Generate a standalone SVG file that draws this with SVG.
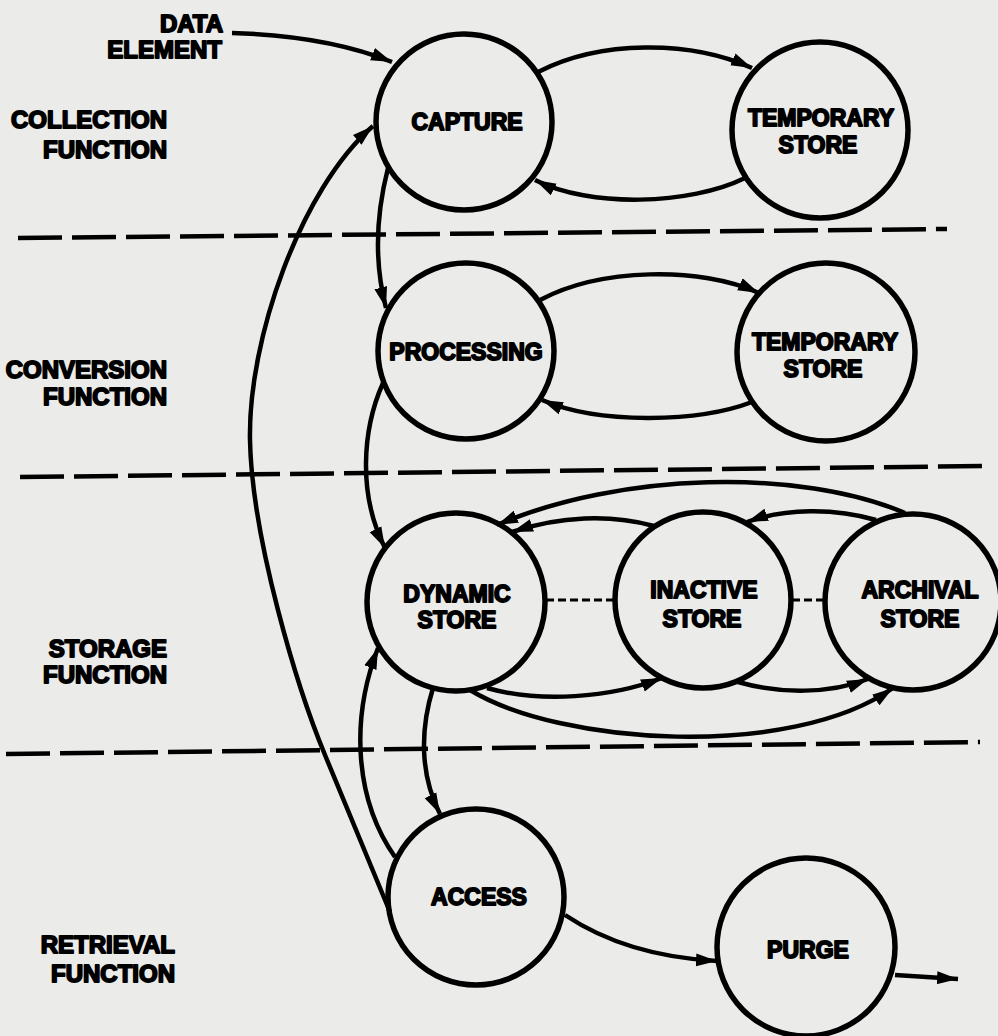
<svg xmlns="http://www.w3.org/2000/svg" width="998" height="1036" viewBox="0 0 998 1036">
<style>
.bg{fill:#ebebe9}
.node{fill:none;stroke:#000;stroke-width:5.5}
.lbl{font-family:"Liberation Sans",Arial,sans-serif;font-weight:bold;font-size:23px;fill:#000;stroke:#000;stroke-width:1.8;stroke-linejoin:round;text-anchor:middle}
.side{font-family:"Liberation Sans",Arial,sans-serif;font-weight:bold;font-size:24px;fill:#000;stroke:#000;stroke-width:1.8;stroke-linejoin:round;text-anchor:end}
.sep{fill:none;stroke:#000;stroke-width:4.5;stroke-dasharray:44 10}
.edge{fill:none;stroke:#000;stroke-width:4.5;marker-end:url(#arr)}
.dot{fill:none;stroke:#000;stroke-width:3;stroke-dasharray:8 4}
</style>
<defs>
<marker id="arr" markerUnits="userSpaceOnUse" markerWidth="24" markerHeight="16" refX="21" refY="7" orient="auto">
<path d="M0,0.5 L21,7 L0,13.5 z" fill="#000"/>
</marker>
</defs>
<rect class="bg" x="0" y="0" width="998" height="1036"/>

<g id="section-labels">
<text class="side" x="223" y="32">DATA</text>
<text class="side" x="222" y="58">ELEMENT</text>
<text class="side" x="167" y="128">COLLECTION</text>
<text class="side" x="167" y="158">FUNCTION</text>
<text class="side" x="167" y="378">CONVERSION</text>
<text class="side" x="167" y="405">FUNCTION</text>
<text class="side" x="167" y="657">STORAGE</text>
<text class="side" x="167" y="683">FUNCTION</text>
<text class="side" x="175" y="953">RETRIEVAL</text>
<text class="side" x="175" y="982">FUNCTION</text>
</g>

<g id="separators">
<line class="sep" x1="18" y1="238" x2="947" y2="229"/>
<line class="sep" x1="20" y1="477" x2="988" y2="466"/>
<line class="sep" x1="6" y1="754" x2="980" y2="742"/>
</g>

<g id="capture"><circle class="node" cx="464" cy="122" r="88"/><text class="lbl" x="467" y="130">CAPTURE</text></g>
<g id="temp-store-1"><circle class="node" cx="820" cy="130" r="88"/><text class="lbl" x="821" y="126">TEMPORARY</text><text class="lbl" x="818" y="153">STORE</text></g>
<g id="processing"><circle class="node" cx="466" cy="351" r="88"/><text class="lbl" x="466" y="360">PROCESSING</text></g>
<g id="temp-store-2"><circle class="node" cx="826" cy="352" r="89"/><text class="lbl" x="825" y="350">TEMPORARY</text><text class="lbl" x="823" y="377">STORE</text></g>
<g id="dynamic-store"><circle class="node" cx="456" cy="602" r="89"/><text class="lbl" x="457" y="602">DYNAMIC</text><text class="lbl" x="457" y="628">STORE</text></g>
<g id="inactive-store"><circle class="node" cx="703" cy="600" r="88"/><text class="lbl" x="704" y="598">INACTIVE</text><text class="lbl" x="702" y="627">STORE</text></g>
<g id="archival-store"><circle class="node" cx="913" cy="602" r="88"/><text class="lbl" x="920" y="598">ARCHIVAL</text><text class="lbl" x="920" y="627">STORE</text></g>
<g id="access"><circle class="node" cx="476" cy="897" r="88"/><text class="lbl" x="479" y="905">ACCESS</text></g>
<g id="purge"><circle class="node" cx="806" cy="947" r="89"/><text class="lbl" x="808" y="958">PURGE</text></g>

<g id="connectors">
<path class="edge" d="M232,33 C300,35 350,45 392,62"/>
<path class="edge" d="M538,72 C600,40 690,40 752,68"/>
<path class="edge" d="M745,178 C690,205 590,208 535,180"/>
<path class="edge" d="M388,168 C376,215 374,262 386,308"/>
<path class="edge" d="M540,300 C600,268 700,266 759,293"/>
<path class="edge" d="M752,402 C700,422 600,425 542,400"/>
<path class="edge" d="M390,912 L325,755 C298,690 252,540 250,440 C248,340 300,190 373,126"/>
<path class="edge" d="M383,383 C362,430 358,495 385,548"/>
<path class="edge" d="M433,688 C420,730 420,775 440,814"/>
<path class="edge" d="M395,857 C355,800 350,720 378,648"/>
<path class="edge" d="M487,688 C540,703 610,698 662,678"/>
<path class="edge" d="M738,682 C780,694 830,694 868,679"/>
<path class="edge" d="M470,690 C560,745 790,760 893,688"/>
<path class="edge" d="M905,513 C800,468 620,472 497,525"/>
<path class="edge" d="M654,526 C610,514 560,516 512,532"/>
<path class="edge" d="M876,520 C835,508 785,508 747,522"/>
<path class="dot" d="M546,600 L614,600"/>
<path class="dot" d="M792,600 L826,600"/>
<path class="edge" d="M565,915 C610,945 660,958 717,961"/>
<path class="edge" d="M895,975 L958,979"/>
</g>
</svg>
